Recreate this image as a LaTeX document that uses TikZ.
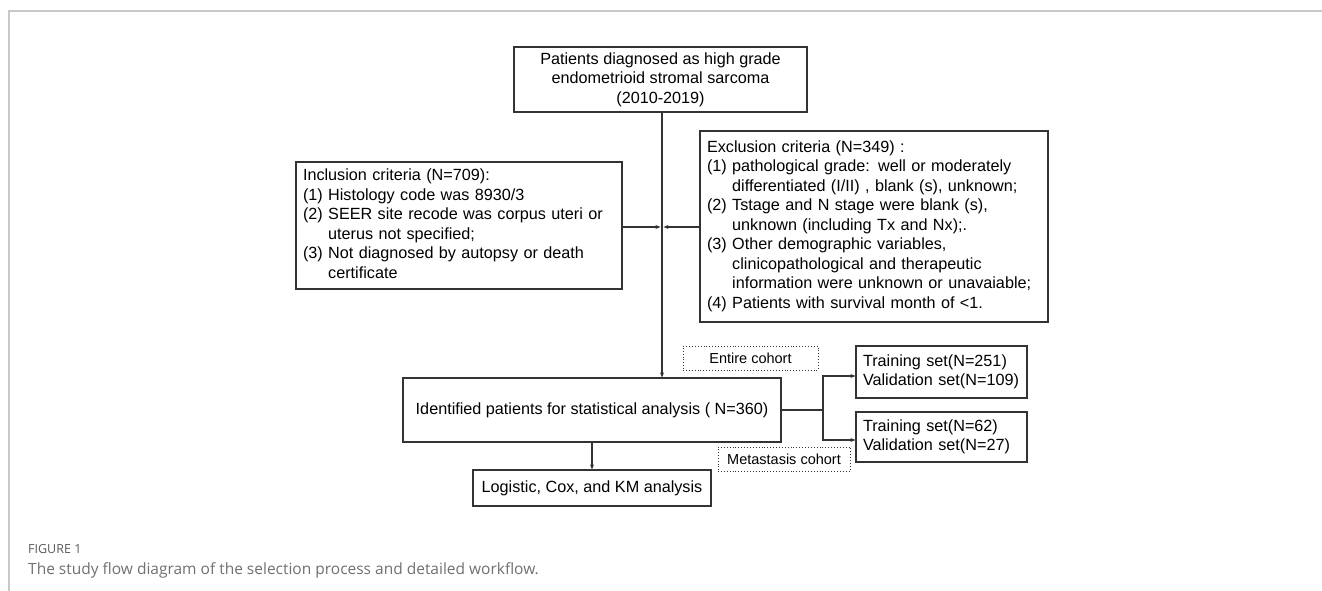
\documentclass[tikz,border=0pt]{standalone}
\usepackage{fontspec}
\setmainfont{Liberation Sans}
\newfontfamily\capfont{Open Sans}
\usetikzlibrary{arrows.meta}
\definecolor{framegray}{HTML}{C8C8C8}
\definecolor{capgray}{HTML}{707070}
\definecolor{figgray}{HTML}{5A5A5A}
\definecolor{linegray}{HTML}{333333}
\tikzset{
  box/.style={draw=linegray, line width=1.2pt, rectangle, inner sep=0pt, font=\fontsize{16.2}{19.5}\selectfont},
  dotbox/.style={draw=linegray, line width=0.9pt, dotted, rectangle, inner sep=0pt, font=\fontsize{14.5}{17}\selectfont},
  conn/.style={draw=linegray, line width=1.2pt},
  arr/.style={conn, -{Stealth[length=5pt,width=4pt]}},
}
\begin{document}
\begin{tikzpicture}[x=1pt,y=-1pt]
\useasboundingbox (0,0) rectangle (1322,591);
% frame
\draw[framegray, line width=1.5pt] (9,591) -- (9,11) -- (1322,11);
% boxes
\node[box, minimum width=293pt, minimum height=65pt, align=center] (top) at (660.5,79.5)
  {Patients diagnosed as high grade\\endometrioid stromal sarcoma\\(2010-2019)};
\node[box, minimum width=326pt, minimum height=127pt, text width=312pt, align=left] (incl) at (459,225.5)
  {\begin{tabular}{@{}l@{\ }l@{}}
  \multicolumn{2}{@{}l@{}}{Inclusion criteria (N=709):}\\
  (1) & Histology code was 8930/3\\
  (2) & SEER site recode was corpus uteri or\\
      & uterus not specified;\\
  (3) & Not diagnosed by autopsy or death\\
      & certificate
  \end{tabular}};
\node[box, minimum width=348pt, minimum height=191pt, text width=334pt, align=left] (excl) at (874,226.5)
  {\begin{tabular}{@{}l@{\ }l@{}}
  \multicolumn{2}{@{}l@{}}{Exclusion criteria (N=349) :}\\
  (1) & pathological grade: well or moderately\\
      & differentiated (I/II) , blank (s), unknown;\\
  (2) & Tstage and N stage were blank (s),\\
      & unknown (including Tx and Nx);.\\
  (3) & Other demographic variables,\\
      & clinicopathological and therapeutic\\
      & information were unknown or unavaiable;\\
  (4) & Patients with survival month of <1.
  \end{tabular}};
\node[box, minimum width=378pt, minimum height=64pt] (ident) at (592,410)
  {Identified patients for statistical analysis ( N=360)};
\node[box, minimum width=238pt, minimum height=36pt] (logi) at (592,488)
  {Logistic, Cox, and KM analysis};
\node[box, minimum width=171pt, minimum height=52pt, text width=157pt, align=left] (tr1) at (941.5,372)
  {Training set(N=251)\\Validation set(N=109)};
\node[box, minimum width=171pt, minimum height=50pt, text width=157pt, align=left] (tr2) at (941.5,437)
  {Training set(N=62)\\Validation set(N=27)};
\node[dotbox, minimum width=135pt, minimum height=24pt] (ent) at (750.5,358) {Entire cohort};
\node[dotbox, minimum width=132pt, minimum height=24pt] (met) at (784,459) {Metastasis cohort};
% connectors
\coordinate (j) at (662,227);
\draw[arr] (top.south -| j) -- (ident.north -| j);
\draw[arr] (incl.east |- j) -- ([xshift=-1.5pt]j);
\draw[arr] (excl.west |- j) -- ([xshift=1.5pt]j);
\draw[arr] (ident.south) -- (logi.north);
\coordinate (b) at (823,410);
\draw[conn] (ident.east) -- (b);
\draw[arr] (b) |- (tr1.west |- 0,376);
\draw[arr] (b) |- (tr2.west |- 0,440);
% caption
\node[anchor=base west, inner sep=0pt, text=figgray, font=\capfont\fontsize{12.5}{14}\selectfont] (fig) at (28,553) {FIGURE 1};
\node[anchor=base west, inner sep=0pt, text=capgray, font=\capfont\fontsize{15.5}{18}\selectfont] (cap) at (28,574)
  {The study flow diagram of the selection process and detailed workflow.};
\end{tikzpicture}
\end{document}
